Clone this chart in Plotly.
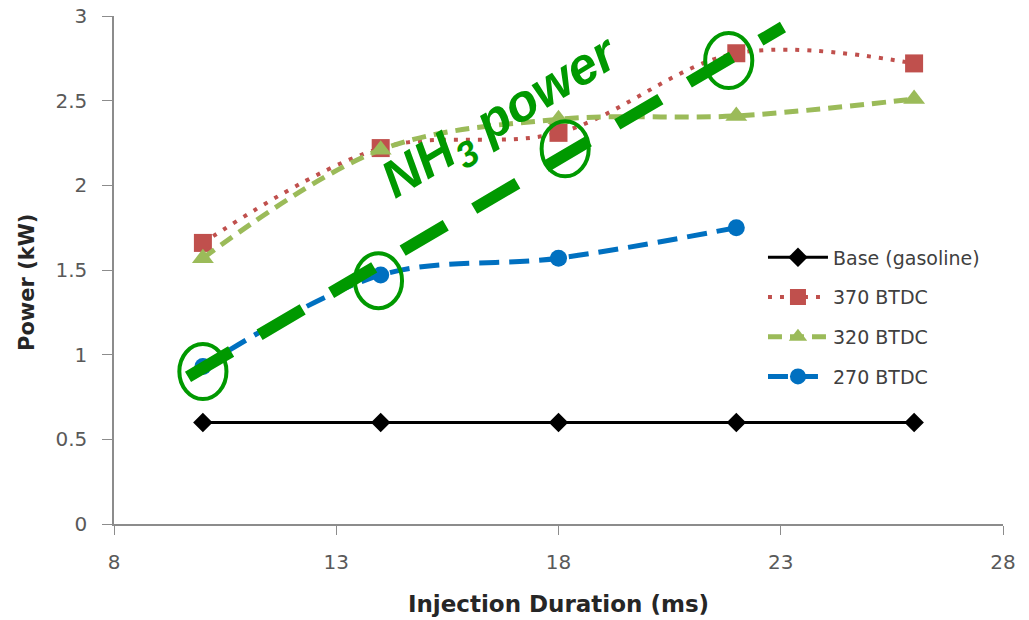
import plotly.graph_objects as go

# Injection duration (ms) and engine power (kW) per start-of-injection timing
duration = [10, 14, 18, 22, 26]
base_gasoline = [0.6, 0.6, 0.6, 0.6, 0.6]
btdc_370 = [1.66, 2.22, 2.31, 2.78, 2.72]
btdc_320 = [1.57, 2.21, 2.39, 2.41, 2.51]
duration_270 = [10, 14, 18, 22]
btdc_270 = [0.93, 1.47, 1.57, 1.75]

# NH3 trend annotation: highlighted points and the trend line ends
highlight_x = [10.0, 13.95, 18.15, 21.83]
highlight_y = [0.90, 1.437, 2.216, 2.737]
trend_x = [9.665, 23.05]
trend_y = [0.869, 2.935]

GREEN = "rgb(0,153,0)"
FONT = "'DejaVu Sans', sans-serif"

# Plot-area geometry in pixels
W, H = 1029, 620
ML, MR, MT, MB = 114, 26, 16, 96
PW, PH = W - ML - MR, H - MT - MB

fig = go.Figure()

fig.add_trace(go.Scatter(
    x=duration, y=base_gasoline, name="Base (gasoline)", mode="lines+markers",
    line=dict(color="black", width=3),
    marker=dict(symbol="diamond", size=15, color="black"),
    legendgroup="a",
))
fig.add_trace(go.Scatter(
    x=duration, y=btdc_370, name="370 BTDC", mode="lines+markers",
    line=dict(color="#C0504D", width=4, dash="4px,8px", shape="spline", smoothing=1.0),
    marker=dict(symbol="square", size=18, color="#C0504D"),
    legendgroup="b",
))
fig.add_trace(go.Scatter(
    x=duration, y=btdc_320, name="320 BTDC", mode="lines+markers",
    line=dict(color="#9BBB59", width=5, dash="14px,8px", shape="spline", smoothing=1.0),
    marker=dict(symbol="triangle-up", size=19, color="#9BBB59"),
    legendgroup="c",
))
fig.add_trace(go.Scatter(
    x=duration_270, y=btdc_270, name="270 BTDC", mode="lines+markers",
    line=dict(color="#0070C0", width=5, dash="20px,10px", shape="spline", smoothing=1.0),
    marker=dict(symbol="circle", size=17, color="#0070C0"),
    legendgroup="d",
))

shapes = [dict(
    type="line", xref="x", yref="y",
    x0=trend_x[0], y0=trend_y[0], x1=trend_x[1], y1=trend_y[1],
    line=dict(color=GREEN, width=12, dash="50px,33px"), layer="above",
)]
rx, ry = 0.53, 0.1625
for cx, cy in zip(highlight_x, highlight_y):
    shapes.append(dict(
        type="circle", xref="x", yref="y",
        x0=cx - rx, x1=cx + rx, y0=cy - ry, y1=cy + ry,
        line=dict(color=GREEN, width=4), layer="above",
    ))

fig.update_layout(
    width=W, height=H,
    margin=dict(l=ML, r=MR, t=MT, b=MB),
    plot_bgcolor="white", paper_bgcolor="white",
    font=dict(family=FONT, size=20, color="#595959"),
    shapes=shapes,
    showlegend=True,
    legend=dict(
        x=0.73, y=0.562, xanchor="left", yanchor="top",
        font=dict(family=FONT, size=19, color="#404040"),
        bgcolor="rgba(0,0,0,0)", tracegroupgap=12, traceorder="grouped",
        itemwidth=60,
    ),
    annotations=[
        dict(
            x=16.72, y=2.39, xref="x", yref="y",
            text="NH<sub>3</sub> power", showarrow=False, textangle=-31,
            font=dict(family="'Liberation Sans', Arial, sans-serif", size=52,
                      color=GREEN, weight="bold", style="italic"),
        ),
        # y-axis title, set slightly below the middle of the axis
        dict(
            x=(27 - ML) / PW, y=(H - MB - 283) / PH, xref="paper", yref="paper",
            xanchor="center", yanchor="middle",
            text="<b>Power (kW)</b>", showarrow=False, textangle=-90,
            font=dict(family=FONT, size=21, color="#262626"),
        ),
    ],
)

fig.update_xaxes(
    range=[8, 28], tickvals=[8, 13, 18, 23, 28], showgrid=False, zeroline=False,
    showline=True, linecolor="#8C8C8C", linewidth=1.5, automargin=False,
    ticks="outside", ticklen=9, tickcolor="#8C8C8C", ticklabelstandoff=10,
    title=dict(text="<b>Injection Duration (ms)</b>", font=dict(size=23, color="#262626"), standoff=23),
)
fig.update_yaxes(
    range=[0, 3], tickvals=[0, 0.5, 1, 1.5, 2, 2.5, 3], showgrid=False, zeroline=False,
    showline=True, linecolor="#8C8C8C", linewidth=1.5, automargin=False,
    ticks="outside", ticklen=10, tickcolor="#8C8C8C", ticklabelstandoff=11,
)

fig.write_html("out.html")
